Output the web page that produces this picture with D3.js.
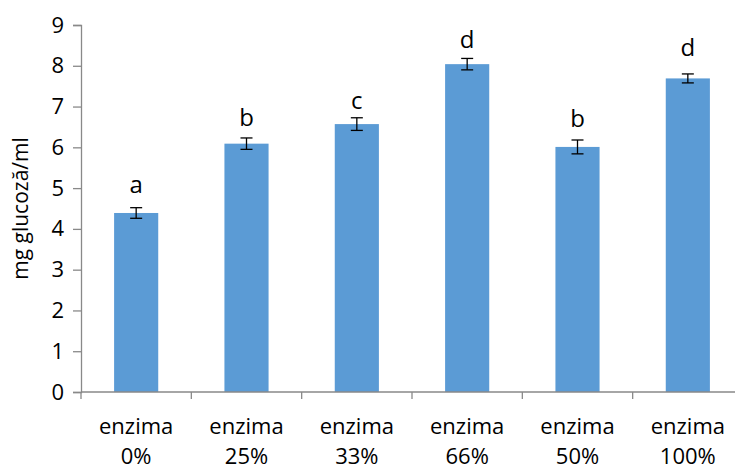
<!DOCTYPE html>
<html>
<head>
<meta charset="utf-8">
<script src="https://cdn.jsdelivr.net/npm/d3@7"></script>
<style>
  body { margin: 0; background: #fff; }
  svg { display: block; font-family: "Open Sans", sans-serif; }
</style>
</head>
<body>
<svg id="chart" width="735" height="469"></svg>
<script>

// chart values
const categories = ["enzima 0%", "enzima 25%", "enzima 33%", "enzima 66%", "enzima 50%", "enzima 100%"];
const values = [4.39, 6.09, 6.57, 8.04, 6.01, 7.69];
const errors = [0.13, 0.14, 0.155, 0.14, 0.17, 0.11];
const letters = ["a", "b", "c", "d", "b", "d"];
const letterAt = [4.87, 6.53, 6.94, 8.43, 6.51, 8.23];
const yTicks = [0, 1, 2, 3, 4, 5, 6, 7, 8, 9];

const svg = d3.select("#chart");

const margin = { left: 81, top: 25, right: -8, bottom: 77 };
const width = 735, height = 469;

const x = d3.scaleBand()
    .domain(categories)
    .range([margin.left, width - margin.right])
    .paddingInner(0)
    .paddingOuter(0);

const y = d3.scaleLinear()
    .domain([0, 9])
    .range([height - margin.bottom, margin.top]);

const barW = x.bandwidth() * 0.4;

// bars
svg.append("g")
    .selectAll("rect")
    .data(categories)
    .join("rect")
    .attr("x", (d) => x(d) + (x.bandwidth() - barW) / 2)
    .attr("y", (d, i) => y(values[i]))
    .attr("width", barW)
    .attr("height", (d, i) => y(0) - y(values[i]))
    .attr("fill", "#5b9bd5");

// error bars
let eb = svg.append("g")
    .attr("stroke", "#000")
    .attr("stroke-width", 1.3)
    .selectAll("g")
    .data(categories)
    .join("g")
    .attr("transform", (d) => `translate(${x(d) + x.bandwidth() / 2},0)`);

eb.append("line")
    .attr("y1", (d, i) => y(values[i] - errors[i]))
    .attr("y2", (d, i) => y(values[i] + errors[i]));
eb.append("line")
    .attr("x1", -6).attr("x2", 6)
    .attr("y1", (d, i) => y(values[i] - errors[i]))
    .attr("y2", (d, i) => y(values[i] - errors[i]));
eb.append("line")
    .attr("x1", -6).attr("x2", 6)
    .attr("y1", (d, i) => y(values[i] + errors[i]))
    .attr("y2", (d, i) => y(values[i] + errors[i]));

// significance letters
svg.append("g")
    .selectAll("text")
    .data(categories)
    .join("text")
    .attr("x", (d) => x(d) + x.bandwidth() / 2)
    .attr("y", (d, i) => y(letterAt[i]))
    .attr("text-anchor", "middle")
    .attr("font-size", 24)
    .attr("fill", "#000")
    .text((d, i) => letters[i]);

// y axis
const yAxis = svg.append("g")
    .attr("transform", `translate(${margin.left},0)`)
    .call(d3.axisLeft(y).tickValues(yTicks).tickSize(8).tickPadding(9).tickFormat(d3.format("d")));
yAxis.select(".domain").attr("stroke", "#898989").attr("stroke-width", 1.3);
yAxis.selectAll(".tick line").attr("stroke", "#898989").attr("stroke-width", 1.3);
yAxis.selectAll(".tick text")
    .attr("font-size", 22)
    .attr("font-family", "Open Sans, sans-serif")
    .attr("fill", "#000");

// x axis, ticks between categories
const boundaries = categories.map((d) => x(d)).concat([x(categories[categories.length - 1]) + x.bandwidth()]);
const xAxis = svg.append("g");
xAxis.append("line")
    .attr("x1", margin.left).attr("x2", width - margin.right)
    .attr("y1", y(0)).attr("y2", y(0))
    .attr("stroke", "#898989").attr("stroke-width", 1.3);
xAxis.selectAll("line.tk")
    .data(boundaries)
    .join("line")
    .attr("class", "tk")
    .attr("x1", (d) => d).attr("x2", (d) => d)
    .attr("y1", y(0)).attr("y2", y(0) + 7)
    .attr("stroke", "#898989").attr("stroke-width", 1.3);

xAxis.selectAll("text")
    .data(categories)
    .join("text")
    .attr("x", (d) => x(d) + x.bandwidth() / 2)
    .attr("text-anchor", "middle")
    .attr("font-size", 22)
    .attr("fill", "#000")
    .each(function (d) {
        let parts = d.split(" ");
        d3.select(this).selectAll("tspan")
            .data(parts)
            .join("tspan")
            .attr("x", x(d) + x.bandwidth() / 2)
            .attr("y", (p, i) => 434 + i * 30)
            .text((p) => p);
    });

// y axis title
svg.append("text")
    .attr("transform", `translate(28,${(y(0) + y(9)) / 2}) rotate(-90)`)
    .attr("text-anchor", "middle")
    .attr("font-size", 21)
    .attr("fill", "#000")
    .text("mg glucoză/ml");

</script>
</body>
</html>
